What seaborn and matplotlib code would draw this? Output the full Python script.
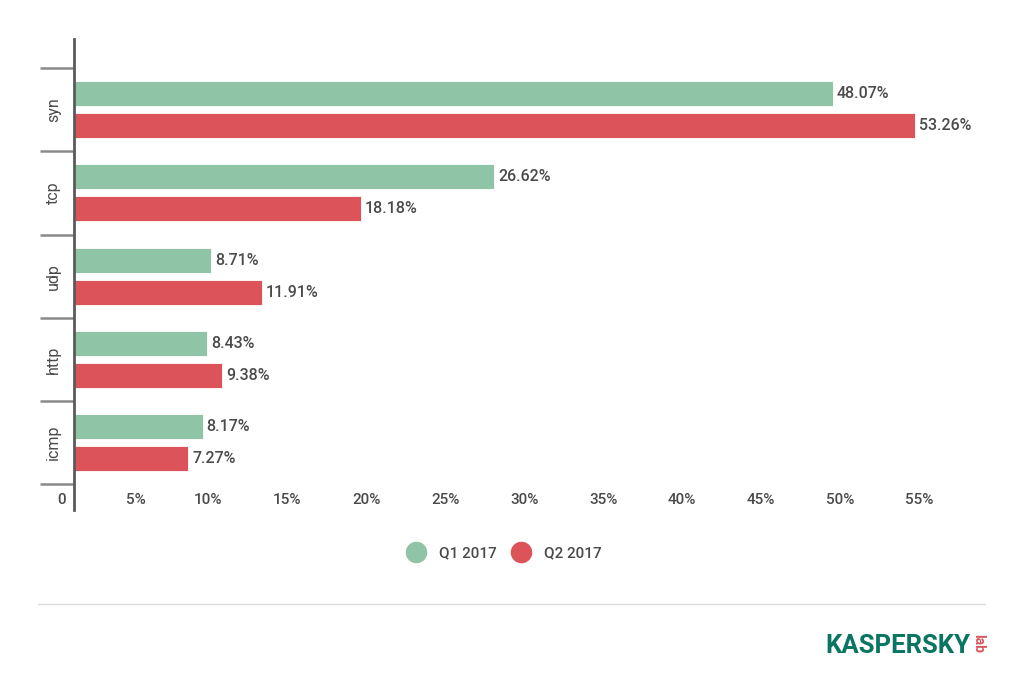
import pandas as pd
import seaborn as sns
import matplotlib.pyplot as plt
import matplotlib.transforms as mtransforms
from matplotlib.lines import Line2D

protocols = ['syn', 'tcp', 'udp', 'http', 'icmp']
q1_share = [48.07, 26.62, 8.71, 8.43, 8.17]
q2_share = [53.26, 18.18, 11.91, 9.38, 7.27]
periods = ['Q1 2017', 'Q2 2017']
x_ticks = [0, 5, 10, 15, 20, 25, 30, 35, 40, 45, 50, 55]
x_tick_labels = ['0', '5%', '10%', '15%', '20%', '25%', '30%', '35%', '40%', '45%', '50%', '55%']

df = pd.DataFrame({
    'protocol': protocols * 2,
    'share': q1_share + q2_share,
    'period': [periods[0]] * len(protocols) + [periods[1]] * len(protocols),
})

green = '#8fc4a7'
red = '#dc535a'
text_col = '#4a4a4a'

sns.set_style('white')
plt.rcParams['font.family'] = ['Roboto', 'DejaVu Sans']

fig = plt.figure(figsize=(10.24, 6.88), dpi=100)
W, H = 1024, 688
ax = fig.add_axes([73.5 / W, 1 - 510 / H, 916 / W, 471 / H])

sns.barplot(data=df, y='protocol', x='share', hue='period', order=protocols,
            hue_order=periods, palette=[green, red], saturation=1, orient='h',
            width=0.77, gap=0.22, edgecolor='#ffffff', linewidth=0.6,
            legend=False, ax=ax)

for cont in ax.containers:
    ax.bar_label(cont, fmt='{:.2f}%', padding=3, color=text_col,
                 fontsize=11.5, fontweight='medium')

ax.set_xlim(0, 58)
ax.set_ylim(4.81, -0.85)
ax.set_xlabel('')
ax.set_ylabel('')

for s in ['top', 'right', 'bottom']:
    ax.spines[s].set_visible(False)
ax.spines['left'].set_color('#5a5a5a')
ax.spines['left'].set_linewidth(2)

# category boundaries as long ticks on the left
ax.set_yticks([i - 0.5 for i in range(len(protocols) + 1)], minor=True)
ax.tick_params(axis='y', which='minor', length=24.5, width=1.8, color='#8a8a8a', left=True)
ax.tick_params(axis='y', which='major', length=0, pad=9, labelsize=11.5, labelcolor=text_col)
for lab in ax.get_yticklabels():
    lab.set_rotation(90)
    lab.set_va('center')

ax.set_xticks(x_ticks, x_tick_labels)
ax.tick_params(axis='x', length=0, pad=-12, labelsize=11, labelcolor=text_col)
shifts = [-11.5, -16.5] + [-23] * (len(x_ticks) - 2)
for lab, dx in zip(ax.get_xticklabels(), shifts):
    lab.set_fontweight('medium')
    lab.set_transform(lab.get_transform() + mtransforms.ScaledTranslation(dx / 100, 0, fig.dpi_scale_trans))

handles = [Line2D([], [], marker='o', ls='', markersize=14.5,
                  markerfacecolor=c, markeredgecolor=c) for c in [green, red]]
fig.legend(handles, periods, loc='center', bbox_to_anchor=(505 / W, 1 - 553 / H),
           ncol=2, frameon=False, handlelength=1.0, handletextpad=1.0,
           columnspacing=1.05, prop={'size': 11, 'weight': 'medium'},
           labelcolor=text_col)

fig.add_artist(Line2D([38 / W, 985 / W], [1 - 604 / H] * 2, color='#dddddd', lw=1))

# logo
fig.text(970 / W, 1 - 646 / H, 'KASPERSKY', color='#0a7560', fontsize=18.5,
         fontweight='bold', ha='right', va='center')
fig.text(978 / W, 1 - 644 / H, 'lab', color=red, fontsize=10, rotation=-90,
         fontweight='bold', va='center', ha='center')

fig.savefig('out.png', dpi=100, facecolor='white')
